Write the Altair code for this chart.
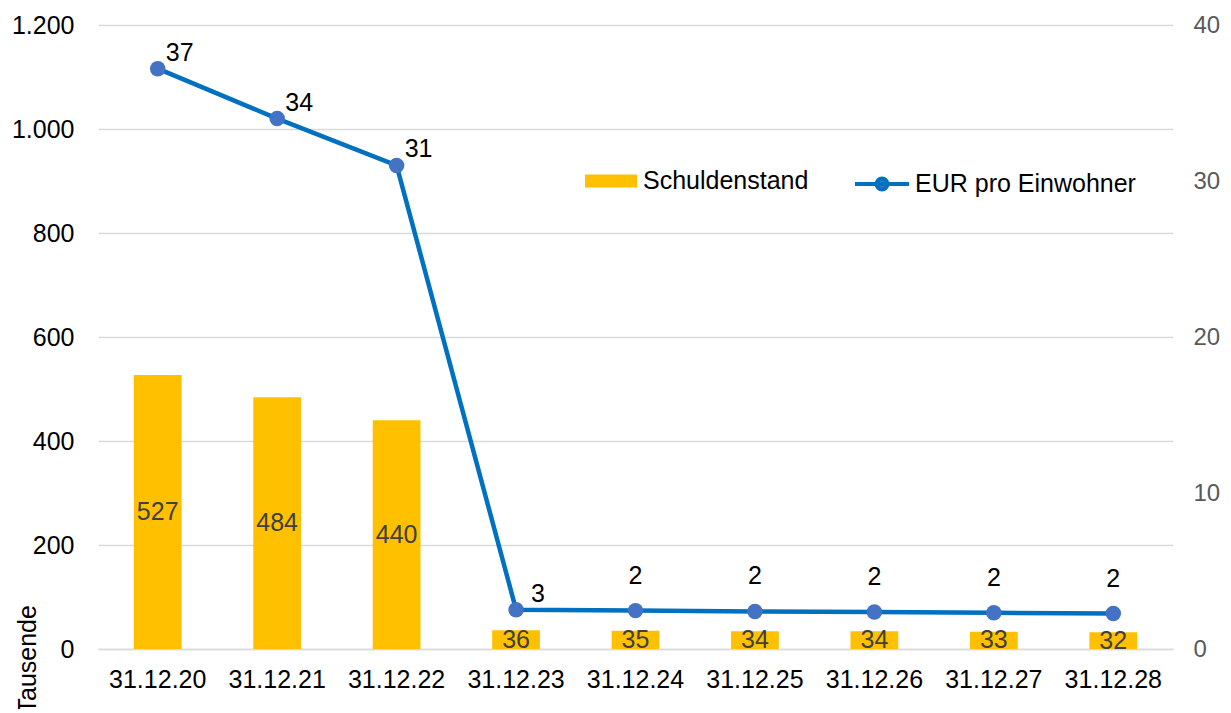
import altair as alt
import pandas as pd

dates = ["31.12.20", "31.12.21", "31.12.22", "31.12.23", "31.12.24",
         "31.12.25", "31.12.26", "31.12.27", "31.12.28"]
schulden = [527, 484, 440, 36, 35, 34, 34, 33, 32]          # Tausend EUR
eur_pro_einwohner = [37.2, 34.0, 31.0, 2.52, 2.46, 2.41, 2.37, 2.32, 2.27]
bar_series = "Schuldenstand"
line_series = "EUR pro Einwohner"

df = pd.DataFrame({
    "datum": dates,
    "schulden": schulden,
    "eur": eur_pro_einwohner,
    "bar_series": [bar_series] * len(dates),
    "line_series": [line_series] * len(dates),
})

FONT = "Liberation Sans"

x_enc = alt.X(
    "datum:N", sort=dates, title=None,
    scale=alt.Scale(paddingInner=0.6, paddingOuter=0.3),
    axis=alt.Axis(labelAngle=0, labelFontSize=25, labelColor="black", labelFont=FONT,
                  labelPadding=18, ticks=False, domainColor="#D9D9D9", domainWidth=1.5,
                  grid=False),
)

left_axis = alt.Axis(
    values=[0, 200, 400, 600, 800, 1000, 1200],
    labelExpr="replace(format(datum.value, ','), ',', '.')",
    labelFontSize=25, labelColor="black", labelFont=FONT, labelPadding=24,
    ticks=False, domain=False, grid=True, gridColor="#D9D9D9", gridWidth=1.3,
    title="Tausende", titleFont=FONT, titleFontSize=25, titleFontWeight="normal",
    titleColor="black", titleAngle=-90, titleAlign="left", titleBaseline="middle",
    titleX=-71, titleY=688,
)
y_left_scale = alt.Scale(domain=[0, 1200], nice=False)

right_axis = alt.Axis(
    values=[0, 10, 20, 30, 40], orient="right",
    labelFontSize=24, labelColor="#595959", labelFont=FONT, labelPadding=20,
    ticks=False, domain=False, grid=False, title=None,
)
y_right_scale = alt.Scale(domain=[0, 40], nice=False)

base = alt.Chart(df)

bars = base.mark_bar().encode(
    x=x_enc,
    y=alt.Y("schulden:Q", scale=y_left_scale, axis=left_axis),
    fill=alt.Fill(
        "bar_series:N",
        scale=alt.Scale(domain=[bar_series], range=["#FFC000"]),
        legend=alt.Legend(
            orient="none", legendX=487, legendY=130, title=None, padding=0,
            symbolType="M-1,-0.25H1V0.25H-1Z", symbolSize=2704, symbolStrokeWidth=0,
            labelFontSize=25, labelFont=FONT, labelColor="black", labelOffset=6,
            labelLimit=400,
        ),
    ),
)

bar_text = base.transform_calculate(mid="datum.schulden / 2").mark_text(
    fontSize=25, font=FONT, color="#404040", baseline="middle"
).encode(
    x=x_enc,
    y=alt.Y("mid:Q", scale=y_left_scale, axis=left_axis),
    text=alt.Text("schulden:Q", format="d"),
)

line = base.mark_line(strokeWidth=4.5).encode(
    x=x_enc,
    y=alt.Y("eur:Q", scale=y_right_scale, axis=right_axis),
    stroke=alt.Stroke(
        "line_series:N",
        scale=alt.Scale(domain=[line_series], range=["#0070C0"]),
        legend=alt.Legend(
            orient="none", legendX=755, legendY=130, title=None, padding=0,
            symbolType="M-1,0H1M-0.2,0A0.2,0.2,0,1,0,0.2,0A0.2,0.2,0,1,0,-0.2,0",
            symbolSize=2916, symbolStrokeWidth=4, symbolFillColor="#4472C4",
            labelFontSize=25, labelFont=FONT, labelColor="black", labelOffset=4,
            labelLimit=400,
        ),
    ),
)

points = base.mark_circle(size=240, color="#4472C4", opacity=1).encode(
    x=x_enc,
    y=alt.Y("eur:Q", scale=y_right_scale, axis=right_axis),
)

text_right = base.transform_filter("datum.eur >= 2.5").mark_text(
    fontSize=25, font=FONT, color="black", dx=22, dy=-16
).encode(
    x=x_enc,
    y=alt.Y("eur:Q", scale=y_right_scale, axis=right_axis),
    text=alt.Text("eur:Q", format=".0f"),
)

text_above = base.transform_filter("datum.eur < 2.5").mark_text(
    fontSize=25, font=FONT, color="black", dx=0, dy=-35
).encode(
    x=x_enc,
    y=alt.Y("eur:Q", scale=y_right_scale, axis=right_axis),
    text=alt.Text("eur:Q", format=".0f"),
)

left = alt.layer(bars, bar_text)
right = alt.layer(line, points, text_right, text_above)

chart = alt.layer(left, right).resolve_scale(
    y="independent", fill="independent", stroke="independent"
).properties(
    width=1075, height=624, background="white",
    padding={"left": 90, "top": 17, "right": 50, "bottom": 60},
    autosize=alt.AutoSizeParams(type="none"),
).configure_view(
    stroke="transparent", strokeOpacity=0
).configure_axisY(
    domain=False, domainOpacity=0
).configure_axisX(
    grid=False, gridOpacity=0
)

chart.save("out.html", embed_options={"renderer": "svg", "actions": False})
